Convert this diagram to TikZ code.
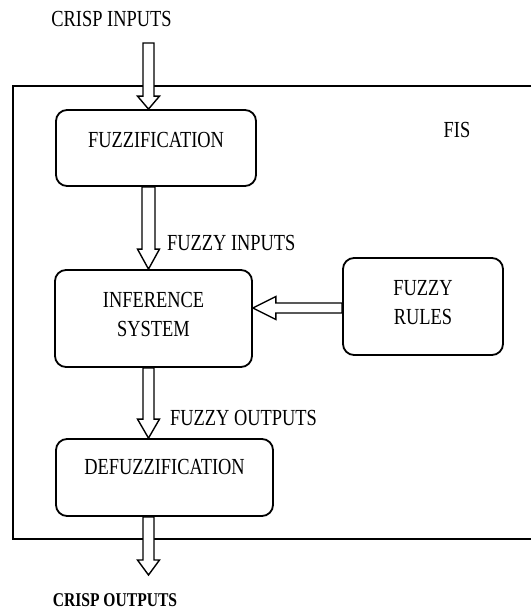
\documentclass[tikz,border=0pt]{standalone}
\usepackage{fontspec}
\setmainfont[FakeStretch=0.8]{Liberation Serif}
\begin{document}
\begin{tikzpicture}[x=1pt,y=-1pt,
  box/.style={draw,line width=1.8pt,rounded corners=11pt,inner sep=0pt},
  txt/.style={inner sep=0pt,font=\fontsize{23}{29}\selectfont,align=center},
  arr/.style={draw,fill=white,line width=1.4pt,line join=miter}]
\useasboundingbox (0,0) rectangle (531,611);
% outer frame (open to the right edge)
\draw[line width=2.2pt] (531,86) -- (13,86) -- (13,539) -- (531,539);
% boxes
\node[box,minimum width=200pt,minimum height=76pt] (fuzz) at (156,148) {};
\node[txt] (fuzzt) at (156,140) {FUZZIFICATION};
\node[box,minimum width=197pt,minimum height=97pt] (inf) at (153.5,318.5) {};
\node[txt] (inft) at (153.5,314) {INFERENCE\\SYSTEM};
\node[box,minimum width=160pt,minimum height=97pt] (rules) at (423,306.5) {};
\node[txt] (rulest) at (423,303) {FUZZY\\RULES};
\node[box,minimum width=217pt,minimum height=77pt] (defuzz) at (164.5,477.5) {};
\node[txt] (defuzzt) at (164.5,467) {DEFUZZIFICATION};
% labels
\node[txt] (cin) at (111.5,19) {CRISP INPUTS};
\node[txt,font=\fontsize{19.5}{24}\selectfont\bfseries] (cout) at (115,600) {CRISP OUTPUTS};
\node[txt,anchor=west] (fin) at (167,243) {FUZZY INPUTS};
\node[txt,anchor=west] (fout) at (170,418) {FUZZY OUTPUTS};
\node[txt] (fis) at (457,130) {FIS};
% helper coordinates
\coordinate (ax) at (148.5,0);
\coordinate (ay) at (0,308);
\coordinate (a1top) at (148.5,43);
\coordinate (a4tip) at (148.5,575);
% vertical hollow arrows: #1 start, #2 tip, #3 shaft half, #4 head half, #5 head length
\newcommand\vblock[5]{%
\draw[arr] ([xshift=-#3pt]#1) -- ([xshift=-#3pt,yshift=#5pt]#2) -- ([xshift=-#4pt,yshift=#5pt]#2) -- (#2) -- ([xshift=#4pt,yshift=#5pt]#2) -- ([xshift=#3pt,yshift=#5pt]#2) -- ([xshift=#3pt]#1) -- cycle;}
\vblock{a1top}{fuzz.north -| ax}{5.5}{11}{13}
\vblock{fuzz.south -| ax}{inf.north -| ax}{6.5}{11}{20}
\vblock{inf.south -| ax}{defuzz.north -| ax}{5.5}{11}{19}
\vblock{defuzz.south -| ax}{a4tip}{5.5}{11}{15}
% horizontal hollow arrow from rules to inference
\draw[arr] ([yshift=5pt]rules.west |- ay) -- ([xshift=23pt,yshift=5pt]inf.east |- ay) -- ([xshift=23pt,yshift=11.5pt]inf.east |- ay) -- (inf.east |- ay) -- ([xshift=23pt,yshift=-11.5pt]inf.east |- ay) -- ([xshift=23pt,yshift=-5pt]inf.east |- ay) -- ([yshift=-5pt]rules.west |- ay) -- cycle;
\end{tikzpicture}
\end{document}
